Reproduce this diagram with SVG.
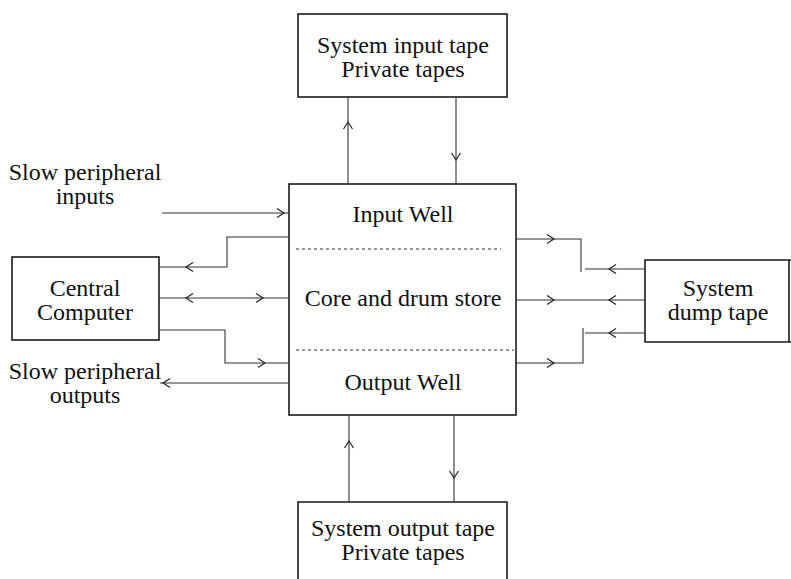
<svg xmlns="http://www.w3.org/2000/svg" xmlns:xlink="http://www.w3.org/1999/xlink" width="791" height="579" viewBox="0 0 791 579">
<style>
.box{fill:none;stroke:#1a1a1a;stroke-width:1.6}
.ln{fill:none;stroke:#333;stroke-width:1.1}
.dot{fill:none;stroke:#333;stroke-width:1.2;stroke-dasharray:3 3}
text{font-family:"Liberation Serif","Times New Roman",serif;font-size:24px;fill:#111;text-anchor:middle}
.chev{fill:none;stroke:#222;stroke-width:1.2}
</style>
<defs>
<path id="chev" class="chev" d="M-7,-4.5 L0,0 L-7,4.5"/>
</defs>
<rect width="791" height="579" fill="#fff"/>
<g id="top-tapes">
<rect class="box" x="298" y="14" width="209" height="83"/>
<text x="403" y="53">System input tape</text>
<text x="403" y="77">Private tapes</text>
</g>
<g id="central-store">
<rect class="box" x="289" y="184" width="227" height="231"/>
<text x="403" y="222">Input Well</text>
<line class="dot" x1="296" y1="249" x2="501" y2="249"/>
<text x="403" y="306">Core and drum store</text>
<line class="dot" x1="296" y1="350" x2="514" y2="350"/>
<text x="403" y="390">Output Well</text>
</g>
<g id="central-computer">
<rect class="box" x="12" y="257" width="147" height="83"/>
<text x="85" y="296">Central</text>
<text x="85" y="320">Computer</text>
</g>
<g id="dump-tape">
<path class="box" d="M791,260 H645 V342 H791"/>
<line class="box" x1="789" y1="260" x2="789" y2="342"/>
<text x="718" y="296">System</text>
<text x="718" y="320">dump tape</text>
</g>
<g id="bottom-tapes">
<path class="box" d="M298,579 V502 H507 V579"/>
<text x="403" y="536">System output tape</text>
<text x="403" y="560">Private tapes</text>
</g>
<g id="slow-inputs">
<text x="85" y="180">Slow peripheral</text>
<text x="85" y="204">inputs</text>
</g>
<g id="slow-outputs">
<text x="85" y="379">Slow peripheral</text>
<text x="85" y="403">outputs</text>
</g>
<g id="connectors">
<line class="ln" x1="162" y1="213" x2="289" y2="213"/>
<use xlink:href="#chev" transform="translate(284,213)"/>
<path class="ln" d="M289,237 H227 V267 H159"/>
<use xlink:href="#chev" transform="translate(186,267) rotate(180)"/>
<line class="ln" x1="159" y1="298" x2="289" y2="298"/>
<use xlink:href="#chev" transform="translate(186,298) rotate(180)"/>
<use xlink:href="#chev" transform="translate(263,298)"/>
<path class="ln" d="M159,330 H225 V363 H289"/>
<use xlink:href="#chev" transform="translate(265,363)"/>
<line class="ln" x1="289" y1="383" x2="160" y2="383"/>
<use xlink:href="#chev" transform="translate(163,383) rotate(180)"/>
<path class="ln" d="M516,239 H581 V272"/>
<use xlink:href="#chev" transform="translate(554,239)"/>
<line class="ln" x1="645" y1="269" x2="585" y2="269"/>
<use xlink:href="#chev" transform="translate(609,269) rotate(180)"/>
<line class="ln" x1="516" y1="300" x2="645" y2="300"/>
<use xlink:href="#chev" transform="translate(554,300)"/>
<use xlink:href="#chev" transform="translate(609,300) rotate(180)"/>
<line class="ln" x1="645" y1="333" x2="585" y2="333"/>
<use xlink:href="#chev" transform="translate(609,333) rotate(180)"/>
<path class="ln" d="M516,363 H583 V328"/>
<use xlink:href="#chev" transform="translate(554,363)"/>
<line class="ln" x1="348" y1="184" x2="348" y2="97"/>
<use xlink:href="#chev" transform="translate(348,122) rotate(-90)"/>
<line class="ln" x1="456" y1="97" x2="456" y2="184"/>
<use xlink:href="#chev" transform="translate(456,160) rotate(90)"/>
<line class="ln" x1="349" y1="502" x2="349" y2="415"/>
<use xlink:href="#chev" transform="translate(349,441) rotate(-90)"/>
<line class="ln" x1="454" y1="415" x2="454" y2="502"/>
<use xlink:href="#chev" transform="translate(454,478) rotate(90)"/>
</g>
</svg>
